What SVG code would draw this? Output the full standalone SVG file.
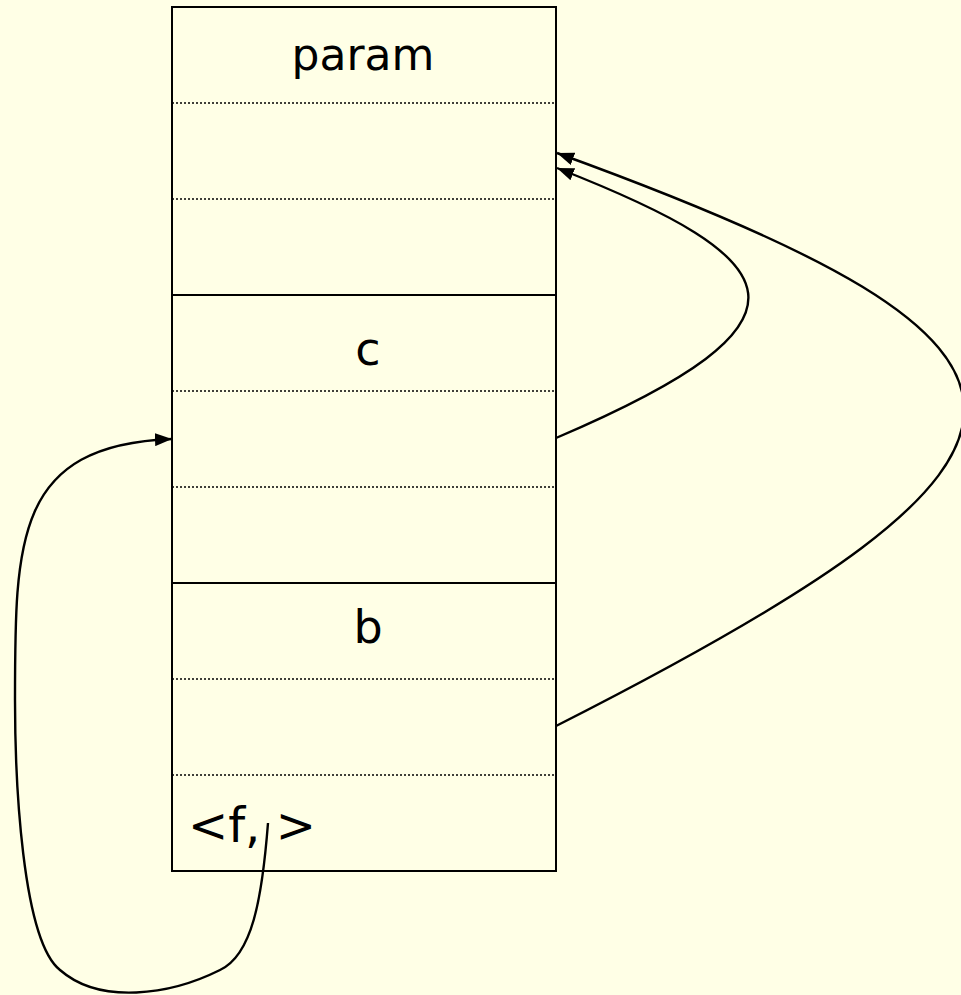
<svg xmlns="http://www.w3.org/2000/svg" width="961" height="995" viewBox="0 0 961 995">
<style>
.solid{stroke:#000;stroke-width:2;fill:none}
.dot{stroke:#000;stroke-width:1.5;stroke-dasharray:2,2;fill:none}
.lbl{font-family:"Comic Sans MS","DejaVu Sans","Noto Sans",sans-serif;fill:#000}
.conn{stroke:#000;stroke-width:2.4;fill:none}
</style>
<defs>
<marker id="ah" viewBox="0 0 17 13" refX="17" refY="6.5" markerWidth="17" markerHeight="13" markerUnits="userSpaceOnUse" orient="auto">
<path d="M0,0 L17,6.5 L0,13 z" fill="#000"/>
</marker>
</defs>
<rect x="0" y="0" width="961" height="995" fill="#FFFFE6"/>
<g id="frame-param">
<rect x="172" y="7" width="384" height="288" class="solid"/>
<line x1="172" y1="103" x2="556" y2="103" class="dot"/>
<line x1="172" y1="199" x2="556" y2="199" class="dot"/>
<text x="363" y="70" font-size="44" text-anchor="middle" class="lbl">param</text>
</g>
<g id="frame-c">
<rect x="172" y="295" width="384" height="288" class="solid"/>
<line x1="172" y1="391" x2="556" y2="391" class="dot"/>
<line x1="172" y1="487" x2="556" y2="487" class="dot"/>
<text x="368" y="365" font-size="46" text-anchor="middle" class="lbl">c</text>
</g>
<g id="frame-b">
<rect x="172" y="583" width="384" height="288" class="solid"/>
<line x1="172" y1="679" x2="556" y2="679" class="dot"/>
<line x1="172" y1="775" x2="556" y2="775" class="dot"/>
<text x="368" y="643" font-size="46" text-anchor="middle" class="lbl">b</text>
<text x="188" y="842" font-size="48" class="lbl">&lt;f, &gt;</text>
</g>
<g id="connectors">
<path d="M556,438 C832,320 792,260 557,168" class="conn" marker-end="url(#ah)"/>
<path d="M556,726 C1100,450 1100,350 557,153" class="conn" marker-end="url(#ah)"/>
<path d="M268,823 C262,900 252,955 220,970 C170,995 100,1005 60,970 C22,940 15,780 15,700 C15,540 15,445 172,439" class="conn" marker-end="url(#ah)"/>
</g>
</svg>
